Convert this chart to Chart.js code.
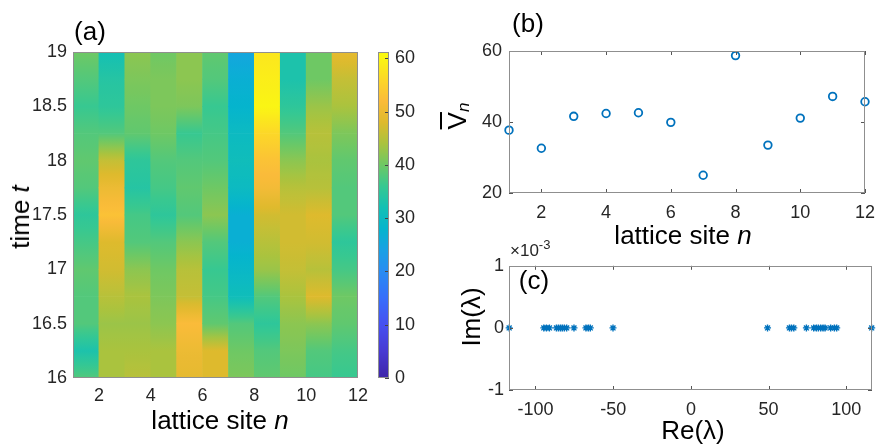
<!DOCTYPE html>
<html>
<head>
<meta charset="utf-8">
<script src="https://cdn.jsdelivr.net/npm/chart.js@4.4.1/dist/chart.umd.min.js"></script>
<style>
  body { margin: 0; background: #fff; }
  #fig { position: relative; width: 884px; height: 445px; overflow: hidden;
         font-family: 'Liberation Sans', Arial, sans-serif; color: #000; }
  canvas { position: absolute; }
  .lbl { position: absolute; white-space: nowrap; font-size: 26px; line-height: 1; }
  .ctr { transform: translate(-50%, -50%); }
  .rot { transform: translate(-50%, -50%) rotate(-90deg); }
</style>
</head>
<body>
<div id="fig">
  <canvas id="heat" width="375" height="445" style="left:0;top:0"></canvas>
  <canvas id="cbar" width="60" height="445" style="left:375px;top:0"></canvas>
  <canvas id="mean" width="449" height="250" style="left:435px;top:0"></canvas>
  <canvas id="eig" width="449" height="195" style="left:435px;top:250px"></canvas>

  <div class="lbl ctr" style="left:90px;top:31px">(a)</div>
  <div class="lbl rot" style="left:20px;top:217px">time <i>t</i></div>
  <div class="lbl ctr" style="left:220px;top:420px">lattice site <i>n</i></div>

  <div class="lbl ctr" style="left:528px;top:23px">(b)</div>
  <div class="lbl rot" style="left:458px;top:116px"><span style="text-decoration:overline">V</span><i style="font-size:17px;vertical-align:-3px">n</i></div>
  <div class="lbl ctr" style="left:683px;top:235px">lattice site <i>n</i></div>

  <div class="lbl" style="left:510px;top:238px;font-size:17px;color:#262626">&times;10<sup style="font-size:13px">-3</sup></div>
  <div class="lbl ctr" style="left:534px;top:280px">(c)</div>
  <div class="lbl rot" style="left:471px;top:317px">Im(&lambda;)</div>
  <div class="lbl ctr" style="left:693px;top:430px">Re(&lambda;)</div>
</div>

<script>
// ---- (a) heatmap: V_n(t) sampled every 0.25 in time, one array per lattice column ----
const sites = [1, 2, 3, 4, 5, 6, 7, 8, 9, 10, 11, 12];
const timeSamples = [16, 16.25, 16.5, 16.75, 17, 17.25, 17.5, 17.75, 18, 18.25, 18.5, 18.75, 19];
const V1  = [38, 33, 38, 38, 39, 37, 35, 38, 39, 38, 36, 38, 40];
const V2  = [44, 44, 43, 45, 47, 48, 53, 50, 46, 38, 35, 34, 32];
const V3  = [45, 44, 43, 44, 42, 38, 37, 34, 35, 39, 40, 41, 42];
const V4  = [44, 44, 42, 41, 40, 38, 35, 37, 38, 40, 41, 41, 40];
const V5  = [49, 50, 52, 46, 45, 42, 38, 39, 38, 36, 41, 42, 42];
const V6  = [48, 48, 39, 37, 36, 38, 42, 40, 38, 37, 36, 38, 39];
const V7  = [41, 40, 38, 31, 29, 27, 27, 30, 31, 30, 28, 27, 25];
const V8  = [39, 38, 35, 38, 43, 45, 47, 51, 53, 56, 60, 59, 58];
const V9  = [40, 41, 42, 44, 46, 47, 47, 45, 42, 38, 35, 33, 33];
const V10 = [37, 38, 42, 48, 45, 47, 48, 45, 44, 45, 43, 40, 40];
const V11 = [36, 37, 39, 40, 37, 35, 38, 38, 39, 41, 44, 46, 49];
const heatColumns = [V1, V2, V3, V4, V5, V6, V7, V8, V9, V10, V11];
const colorMax = 61.2;

// ---- (b) time-averaged V_n ----
const meanSites = [1, 2, 3, 4, 5, 6, 7, 8, 9, 10, 11, 12];
const meanV = [37.7, 32.6, 41.6, 42.4, 42.6, 39.9, 25.0, 58.7, 33.5, 41.1, 47.2, 45.7];

// ---- (c) eigenvalues ----
const eigRe = [-116.9, -94.6, -92.9, -91.0, -86.5, -85.2, -83.9, -82.7, -81.4, -79.9, -75.2,
               -67.5, -66.0, -64.7, -50.1, 49.3, 63.4, 64.7, 66.2, 74.3, 79.0, 80.7, 82.0,
               83.5, 85.0, 86.3, 89.9, 92.3, 93.8, 116.3];
const eigIm = eigRe.map(() => 0);

// colormap (parula-like, as seen on the colorbar)
const cmapStops = [0, 5, 10, 15, 20, 24, 28, 32, 36, 40, 44, 48, 52, 56, 60, 61.2];
const cmapRGB = [
  [62, 38, 168], [72, 58, 210], [70, 80, 240], [55, 110, 250], [40, 140, 242], [25, 160, 228],
  [5, 180, 205], [20, 192, 180], [55, 200, 145], [110, 200, 100], [170, 195, 62], [222, 186, 45],
  [250, 187, 58], [252, 215, 40], [250, 245, 20], [249, 251, 14]
];
function cmap(v) {
  v = Math.max(cmapStops[0], Math.min(cmapStops[cmapStops.length - 1], v));
  let i = 0;
  while (i < cmapStops.length - 2 && v > cmapStops[i + 1]) i++;
  const f = (v - cmapStops[i]) / (cmapStops[i + 1] - cmapStops[i]);
  const c = cmapRGB[i].map((a, k) => Math.round(a + (cmapRGB[i + 1][k] - a) * f));
  return `rgb(${c[0]},${c[1]},${c[2]})`;
}

Chart.defaults.font.family = "'Liberation Sans', Arial, sans-serif";
Chart.defaults.font.size = 18;
Chart.defaults.color = '#262626';
Chart.defaults.animation = false;
Chart.defaults.plugins.legend.display = false;
Chart.defaults.plugins.tooltip.enabled = false;

const frameColor = '#8f8f8f';
const plainNum = (v) => String(+Number(v).toFixed(3));

// box around the axes plus MATLAB-style inward tick marks
const boxPlugin = {
  id: 'box',
  afterDraw(chart, args, opts) {
    const { ctx, chartArea: a } = chart;
    const len = opts.tickLen || 0;
    ctx.save();
    ctx.lineWidth = 1;
    ctx.strokeStyle = opts.tickColor || frameColor;
    (opts.sides || []).forEach(side => {
      const s = chart.scales[(side === 'top' || side === 'bottom') ? 'x' : 'y'];
      s.ticks.forEach(t => {
        const p = Math.round(s.getPixelForValue(t.value)) + 0.5;
        ctx.beginPath();
        if (side === 'bottom') { ctx.moveTo(p, a.bottom); ctx.lineTo(p, a.bottom - len); }
        if (side === 'top') { ctx.moveTo(p, a.top); ctx.lineTo(p, a.top + len); }
        if (side === 'left') { ctx.moveTo(a.left, p); ctx.lineTo(a.left + len, p); }
        if (side === 'right') { ctx.moveTo(a.right, p); ctx.lineTo(a.right - len, p); }
        ctx.stroke();
      });
    });
    ctx.strokeStyle = frameColor;
    ctx.strokeRect(Math.round(a.left) + 0.5, Math.round(a.top) + 0.5,
                   Math.round(a.right - a.left) - 1, Math.round(a.bottom - a.top) - 1);
    ctx.restore();
  }
};

function axisFont() { return { size: 18 }; }

// ---- (a) heatmap as floating bars ----
const heatData = [];
heatColumns.forEach((col, c) => {
  for (let i = 0; i < timeSamples.length - 1; i++) {
    heatData.push({
      x: sites[c] + 0.5,
      y: [timeSamples[i], timeSamples[i + 1]],
      v0: col[i], v1: col[i + 1]
    });
  }
});

new Chart(document.getElementById('heat'), {
  type: 'bar',
  data: {
    datasets: [{
      data: heatData,
      borderWidth: 0,
      barPercentage: 1,
      categoryPercentage: 1,
      backgroundColor: (c) => {
        if (c.type !== 'data' || !c.raw) return 'transparent';
        const ch = c.chart;
        if (!ch.chartArea) return cmap(c.raw.v0);
        const ys = ch.scales.y;
        const g = ch.ctx.createLinearGradient(0, ys.getPixelForValue(c.raw.y[0]),
                                              0, ys.getPixelForValue(c.raw.y[1]));
        for (let k = 0; k <= 4; k++) {
          g.addColorStop(k / 4, cmap(c.raw.v0 + (c.raw.v1 - c.raw.v0) * k / 4));
        }
        return g;
      }
    }]
  },
  options: {
    responsive: false,
    layout: { padding: { top: 52, right: 16, left: 0, bottom: 0 } },
    scales: {
      x: {
        type: 'linear', min: 1, max: 12, offset: false,
        grid: { display: false, drawTicks: false, offset: false },
        border: { display: false },
        ticks: { stepSize: 2, includeBounds: false, padding: 7, font: axisFont(), callback: plainNum },
        afterFit: (s) => { s.height = 67; }
      },
      y: {
        type: 'linear', min: 16, max: 19,
        grid: { display: false, drawTicks: false },
        border: { display: false },
        ticks: { stepSize: 0.5, padding: 6, font: axisFont(), callback: plainNum },
        afterFit: (s) => { s.width = 73; }
      }
    },
    plugins: { box: { sides: [] } }
  },
  plugins: [boxPlugin]
});

// ---- colorbar ----
new Chart(document.getElementById('cbar'), {
  type: 'bar',
  data: {
    labels: [''],
    datasets: [{
      data: [[0, colorMax]],
      borderWidth: 0,
      barPercentage: 1,
      categoryPercentage: 1,
      backgroundColor: (c) => {
        const ch = c.chart;
        if (!ch.chartArea) return cmap(30);
        const ys = ch.scales.y;
        const g = ch.ctx.createLinearGradient(0, ys.getPixelForValue(0), 0, ys.getPixelForValue(colorMax));
        cmapStops.forEach(v => g.addColorStop(v / colorMax, cmap(v)));
        return g;
      }
    }]
  },
  options: {
    responsive: false,
    layout: { padding: { top: 52, right: 0, left: 3, bottom: 67 } },
    scales: {
      x: { display: false },
      y: {
        position: 'right', min: 0, max: colorMax,
        grid: { display: false, drawTicks: false },
        border: { display: false },
        ticks: { stepSize: 10, includeBounds: false, padding: 6, font: axisFont(), callback: plainNum },
        afterFit: (s) => { s.width = 46; }
      }
    },
    plugins: { box: { sides: ['right'], tickLen: 4, tickColor: '#444' } }
  },
  plugins: [boxPlugin]
});

// ---- (b) mean values ----
new Chart(document.getElementById('mean'), {
  type: 'scatter',
  data: {
    datasets: [{
      data: meanSites.map((n, i) => ({ x: n, y: meanV[i] })),
      pointStyle: 'circle',
      pointRadius: 3.8,
      pointBorderWidth: 1.8,
      borderColor: '#0072BD',
      backgroundColor: 'rgba(0,0,0,0)',
      clip: false
    }]
  },
  options: {
    responsive: false,
    layout: { padding: { top: 51, right: 12, left: 0, bottom: 0 } },
    scales: {
      x: {
        type: 'linear', min: 1, max: 12,
        grid: { display: false, drawTicks: false },
        border: { display: false },
        ticks: { stepSize: 2, includeBounds: false, padding: 9, font: axisFont(), callback: plainNum },
        afterFit: (s) => { s.height = 57; }
      },
      y: {
        type: 'linear', min: 20, max: 60,
        grid: { display: false, drawTicks: false },
        border: { display: false },
        ticks: { stepSize: 20, padding: 7, font: axisFont(), callback: plainNum },
        afterFit: (s) => { s.width = 74; }
      }
    },
    plugins: { box: { sides: ['top', 'bottom', 'left', 'right'], tickLen: 4, tickColor: '#555' } }
  },
  plugins: [boxPlugin]
});

// ---- (c) eigenvalues ----
new Chart(document.getElementById('eig'), {
  type: 'scatter',
  data: {
    datasets: [{
      data: eigRe.map((re, i) => ({ x: re, y: eigIm[i] })),
      pointStyle: 'star',
      pointRadius: 3.5,
      pointBorderWidth: 1.4,
      borderColor: '#0072BD',
      backgroundColor: '#0072BD',
      clip: false
    }]
  },
  options: {
    responsive: false,
    layout: { padding: { top: 13, right: 12, left: 0, bottom: 0 } },
    scales: {
      x: {
        type: 'linear', min: -117, max: 116.5,
        grid: { display: false, drawTicks: false },
        border: { display: false },
        ticks: { stepSize: 50, includeBounds: false, padding: 9, font: axisFont(), callback: plainNum },
        afterFit: (s) => { s.height = 55; }
      },
      y: {
        type: 'linear', min: -0.001, max: 0.001,
        grid: { display: false, drawTicks: false },
        border: { display: false },
        ticks: {
          stepSize: 0.001, padding: 5, font: axisFont(),
          callback: (v) => String(Math.round(v * 1000) || 0)
        },
        afterFit: (s) => { s.width = 74; }
      }
    },
    plugins: { box: { sides: ['top', 'bottom', 'left', 'right'], tickLen: 4, tickColor: '#555' } }
  },
  plugins: [boxPlugin]
});
</script>
</body>
</html>
